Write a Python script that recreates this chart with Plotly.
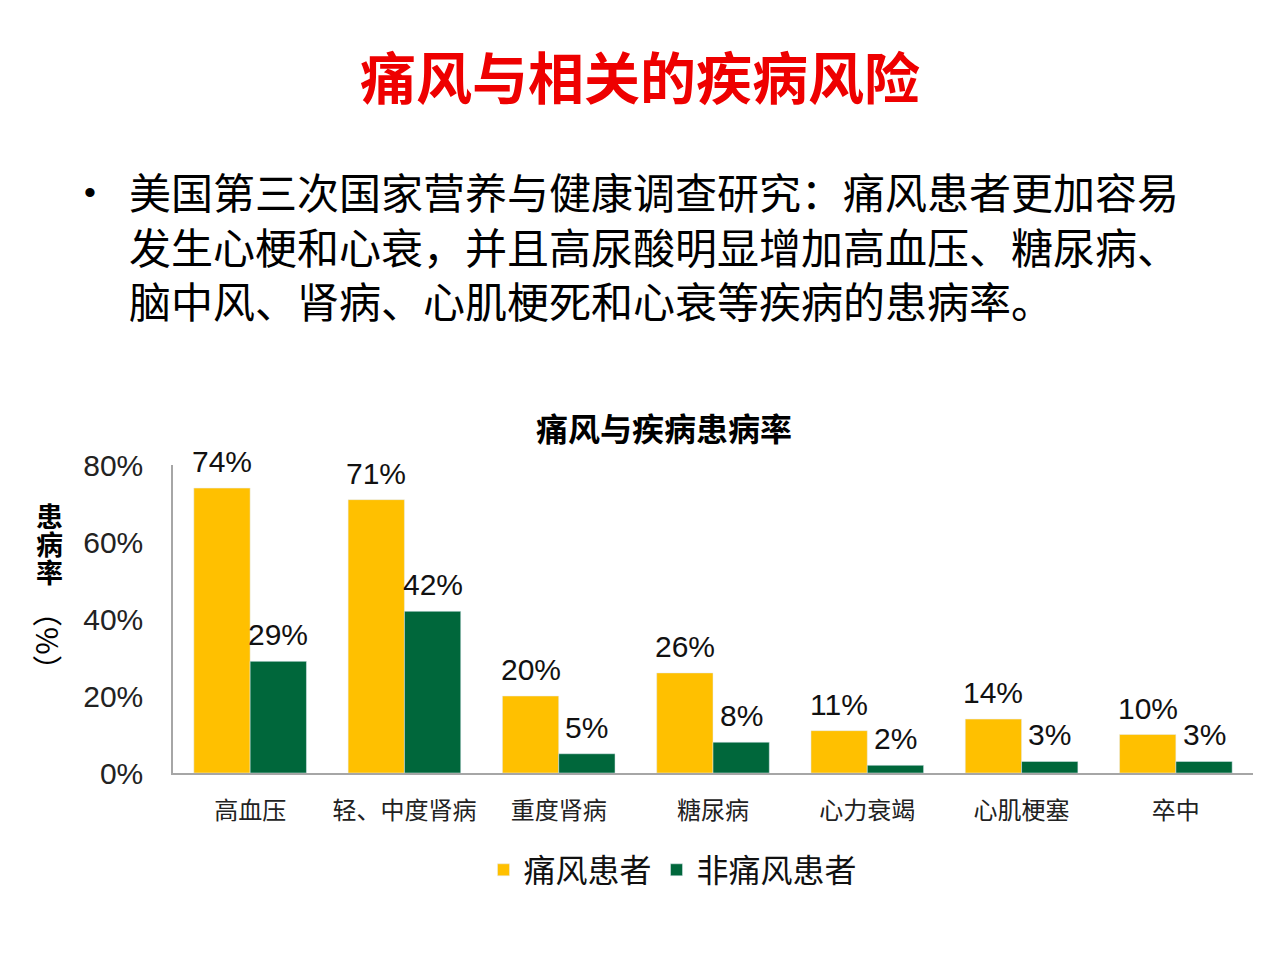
import plotly.graph_objects as go

categories = ["高血压", "轻、中度肾病", "重度肾病", "糖尿病", "心力衰竭", "心肌梗塞", "卒中"]
gout = [74, 71, 20, 26, 11, 14, 10]
non_gout = [29, 42, 5, 8, 2, 3, 3]
series_names = ["痛风患者", "非痛风患者"]
y_ticks = [0, 20, 40, 60, 80]
y_ticktext = ["0%", "20%", "40%", "60%", "80%"]

L, R, T, B = 173, 1253, 465, 773
W, H = R - L, B - T


def px(x):
    return (x - L) / W


def py(y):
    return (B - y) / H


CJK = "Noto Sans CJK SC"
LAT = "Liberation Sans, Arial, sans-serif"
BARGAP = 0.27
colors = ["#FFC000", "#00673B"]

fig = go.Figure()
for name, vals, col in zip(series_names, [gout, non_gout], colors):
    fig.add_trace(go.Bar(x=categories, y=vals, name=name, marker_color=col))

fig.update_layout(
    width=1280, height=960,
    margin=dict(l=L, r=1280 - R, t=T, b=960 - B, pad=0),
    paper_bgcolor="white", plot_bgcolor="white",
    barmode="group", bargap=BARGAP, bargroupgap=0,
    showlegend=True,
    legend=dict(orientation="h", x=px(673), xanchor="center", y=py(870), yanchor="middle",
                font=dict(size=32, family=CJK, color="#111111")),
    xaxis=dict(showline=True, linecolor="#A6A6A6", linewidth=1.5, ticks="",
               tickfont=dict(size=24, family=CJK, color="#222222"), ticklabelstandoff=15,
               showgrid=False, zeroline=False),
    yaxis=dict(range=[0, 80], tickvals=y_ticks, ticktext=y_ticktext, showline=True,
               linecolor="#A6A6A6", linewidth=1.5, ticks="", showgrid=False, zeroline=False,
               tickfont=dict(size=30, family=LAT, color="#222222"), ticklabelstandoff=22),
)

ann = []
# value labels, placed through the axes at each bar's value
cat_px = W / len(categories)
bar_px = cat_px * (1 - BARGAP) / 2
for k, vals in enumerate([gout, non_gout]):
    shift = (k - 0.5) * bar_px
    for c, v in zip(categories, vals):
        ann.append(dict(text=f"{v}%", x=c, y=v, xref="x", yref="y", xshift=shift, yshift=8,
                        yanchor="bottom", font=dict(size=30, family=LAT, color="#111111")))

ann.append(dict(text="<b>痛风与相关的疾病风险</b>", x=px(640), y=py(75), font=dict(size=56, family=CJK, color="#EE0000")))
ann.append(dict(text="•", x=px(90), y=py(192), font=dict(size=34, family=LAT, color="black")))
lines = ["美国第三次国家营养与健康调查研究：痛风患者更加容易",
         "发生心梗和心衰，并且高尿酸明显增加高血压、糖尿病、",
         "脑中风、肾病、心肌梗死和心衰等疾病的患病率。"]
ann.append(dict(text="<br>".join(lines), x=px(127), y=py(245), xanchor="left", align="left",
                font=dict(size=42, family=CJK, color="black")))
ann.append(dict(text="<b>痛风与疾病患病率</b>", x=px(664), y=py(427), font=dict(size=32, family=CJK, color="black")))
for ch, yy in zip("患病率", [515, 543, 571]):
    ann.append(dict(text="<b>" + ch + "</b>", x=px(49), y=py(yy), font=dict(size=27, family=CJK, color="black")))
ann.append(dict(text="（%）", x=px(49), y=py(641), textangle=90, font=dict(size=30, family=CJK, color="black")))

for a in ann:
    a.setdefault("xref", "paper")
    a.setdefault("yref", "paper")
    a["showarrow"] = False
    a.setdefault("xanchor", "center")
    a.setdefault("yanchor", "middle")
fig.update_layout(annotations=ann)

fig.write_html("out.html")
